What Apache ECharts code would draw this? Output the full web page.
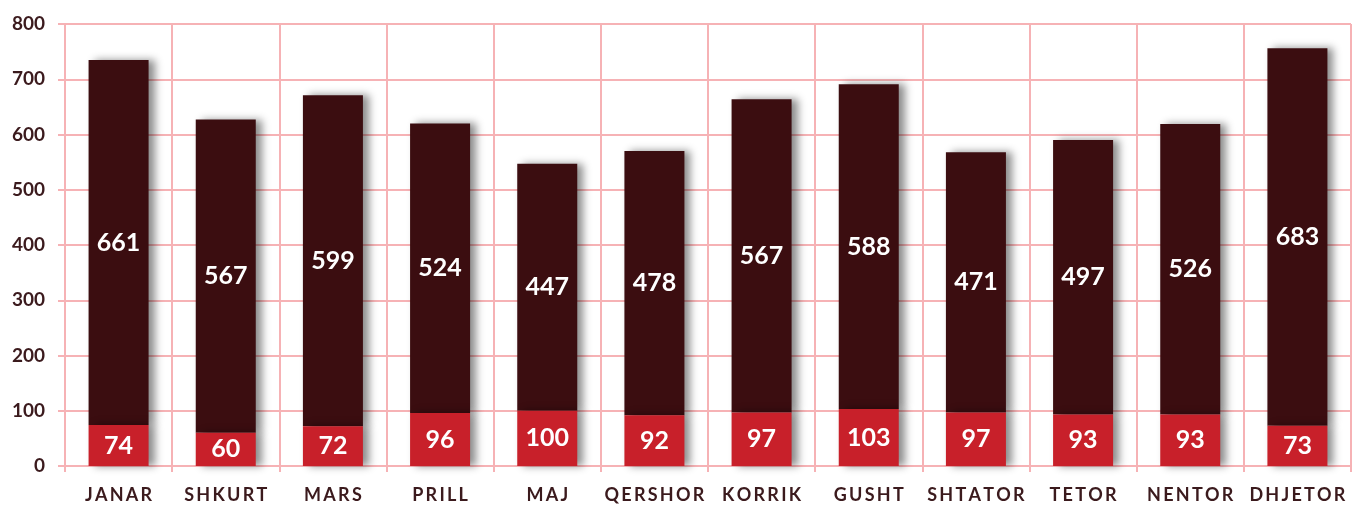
<!DOCTYPE html>
<html>
<head>
<meta charset="utf-8">
<script src="https://cdn.jsdelivr.net/npm/echarts@6/dist/echarts.min.js"></script>
<style>html,body{margin:0;padding:0;background:#fff}#c{width:1353px;height:505px}</style>
</head>
<body>
<div id="c"></div>
<script>
const months = ["JANAR","SHKURT","MARS","PRILL","MAJ","QERSHOR","KORRIK","GUSHT","SHTATOR","TETOR","NENTOR","DHJETOR"];
const redValues = [74,60,72,96,100,92,97,103,97,93,93,73];
const darkValues = [661,567,599,524,447,478,567,588,471,497,526,683];
const yTicks = [0,100,200,300,400,500,600,700,800];

const gridColor = '#f6b2b5';
const textColor = '#3b1a1d';
const shadow = {shadowColor:'rgba(0,0,0,0.45)', shadowBlur:8, shadowOffsetX:6, shadowOffsetY:0};
const chart = echarts.init(document.getElementById('c'), null, {renderer:'canvas'});
chart.setOption({
  animation:false,
  grid:{left:65, right:2, top:24, bottom:39, containLabel:false},
  xAxis:{
    type:'category', data:months,
    axisLine:{show:true, lineStyle:{color:gridColor, width:2}},
    axisTick:{show:true, interval:0, length:6, lineStyle:{color:gridColor, width:2}},
    splitLine:{show:true, interval:0, lineStyle:{color:gridColor, width:2}},
    axisLabel:{interval:0, color:textColor, fontFamily:'Lato', fontWeight:'bold', fontSize:18, margin:20,
      formatter:v=>v.split('').join('\u2009')}
  },
  yAxis:{
    type:'value', min:yTicks[0], max:yTicks[yTicks.length-1], interval:100,
    axisLine:{show:true, lineStyle:{color:gridColor, width:2}},
    axisTick:{show:true, length:7, lineStyle:{color:gridColor, width:2}},
    splitLine:{show:true, lineStyle:{color:gridColor, width:2}},
    axisLabel:{color:textColor, fontFamily:'Lato', fontWeight:'bold', fontSize:19, margin:20}
  },
  series:[
    {type:'bar', stack:'t', data:redValues, barWidth:'56%', z:3,
     itemStyle:Object.assign({color:'#c8202a'}, shadow),
     label:{show:true, position:'inside', color:'#fff', fontFamily:'Lato', fontWeight:'bold', fontSize:25}},
    {type:'bar', stack:'t', data:darkValues, barWidth:'56%', z:2,
     itemStyle:Object.assign({color:'#3b0d10'}, shadow),
     label:{show:true, position:'inside', color:'#fff', fontFamily:'Lato', fontWeight:'bold', fontSize:25}}
  ]
});
</script>
</body>
</html>
